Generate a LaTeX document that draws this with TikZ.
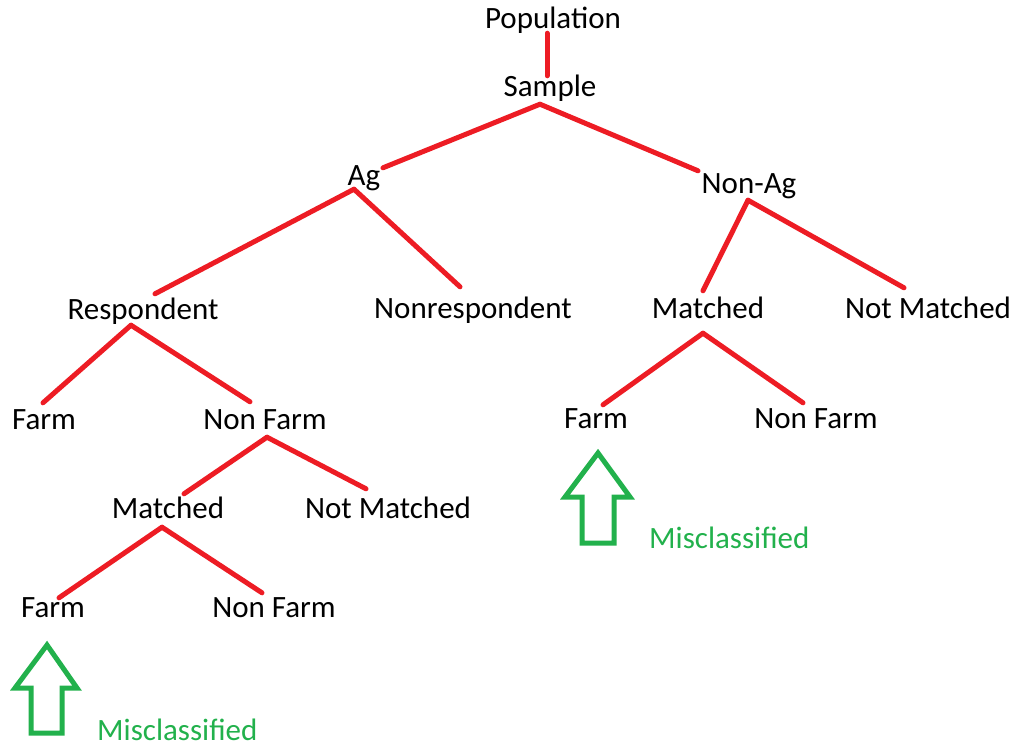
\documentclass[tikz,border=0pt]{standalone}
\usepackage{fontspec}
\setmainfont{Carlito}
\usepackage{tikz}
\definecolor{paintred}{RGB}{237,28,36}
\definecolor{paintgreen}{RGB}{34,177,76}

\begin{document}
\begin{tikzpicture}[x=1pt,y=-1pt,lbl/.style={anchor=base,inner sep=0pt,text height=20pt,text depth=6pt,font=\fontsize{31}{37}\selectfont},edge/.style={paintred,line width=5pt,line cap=round},mis/.style={lbl,anchor=base west,text=paintgreen},uparrow/.style={paintgreen,line width=5pt}]
\useasboundingbox (0,0) rectangle (1021,747);
\node[lbl] (population) at (553,28) {Population};
\node[lbl] (sample) at (550,96) {Sample};
\node[lbl] (ag) at (364,185) {Ag};
\node[lbl] (nonag) at (749,193) {Non-Ag};
\node[lbl] (resp) at (143,319) {Respondent};
\node[lbl] (nonresp) at (473,318) {Nonrespondent};
\node[lbl] (matchR) at (708,318) {Matched};
\node[lbl] (notmatchR) at (928,318) {Not Matched};
\node[lbl] (farmA) at (44,429) {Farm};
\node[lbl] (nonfarmA) at (265,429) {Non Farm};
\node[lbl] (farmR) at (596,428) {Farm};
\node[lbl] (nonfarmR) at (816,428) {Non Farm};
\node[lbl] (matchL) at (168,518) {Matched};
\node[lbl] (notmatchL) at (388,518) {Not Matched};
\node[lbl] (farmB) at (53,617) {Farm};
\node[lbl] (nonfarmB) at (274,617) {Non Farm};
\node[mis] (misR) at (649,548) {Misclassified};
\node[mis] (misL) at (97,740) {Misclassified};
\foreach \a/\ax/\ay/\b/\bx/\by in %
{population/-6/-1/sample/-3/0,
 sample/-10/2/ag/19/3, sample/-10/2/nonag/-51/-2,
 ag/-10/-2/resp/12/-5, ag/-10/-2/nonresp/-13/-11,
 nonag/-1/1/matchR/-5/-7, nonag/-1/1/notmatchR/-24/-10,
 resp/-12/0/farmA/-1/-6, resp/-12/0/nonfarmA/-15/-7,
 matchR/-5/9/farmR/7/-3, matchR/-5/9/nonfarmR/-13/-5,
 nonfarmA/2/2/matchL/16/-4, nonfarmA/2/2/notmatchL/-22/-9,
 matchL/-6/3/farmB/6/1, matchL/-6/3/nonfarmB/-12/-4} {
   \draw[edge] ([shift={(\ax,\ay)}]\a.south) -- ([shift={(\bx,\by)}]\b.north);
}
\draw[uparrow] (47,645) -- (77,688) -- (62,688) -- (62,733) -- (31,733) -- (31,688) -- (15,688) -- cycle;
\draw[uparrow] (598,453) -- (630,497) -- (614,497) -- (614,543) -- (582,543) -- (582,497) -- (565,497) -- cycle;
\end{tikzpicture}
\end{document}
